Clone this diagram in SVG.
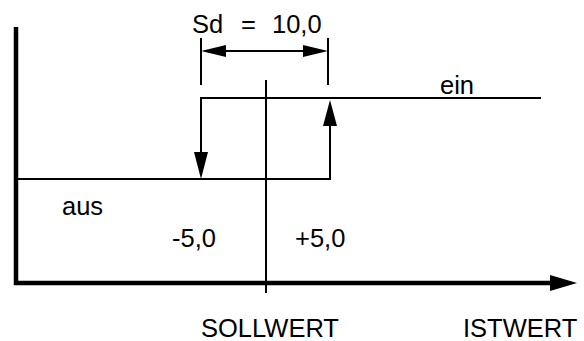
<svg xmlns="http://www.w3.org/2000/svg" width="584" height="341" viewBox="0 0 584 341">
<style>
  .t { font-family: "Liberation Sans", Arial, sans-serif; font-size: 25.5px; fill: #000; }
  .thin { stroke: #000; stroke-width: 2; fill: none; }
  .thick { stroke: #000; stroke-width: 4.5; fill: none; }
  .head { fill: #000; stroke: none; }
</style>
<rect width="584" height="341" fill="#fff"/>
<g id="axes">
  <line class="thick" x1="16" y1="27" x2="16" y2="285"/>
  <line class="thick" x1="14" y1="283" x2="552" y2="283"/>
  <polygon class="head" points="550,275 577,283 550,291"/>
  <line class="thin" x1="266" y1="80" x2="266" y2="293"/>
</g>
<g id="connectors">
  <line class="thin" x1="201" y1="38" x2="201" y2="85"/>
  <line class="thin" x1="328" y1="38" x2="328" y2="85"/>
  <line class="thin" x1="215" y1="51" x2="314" y2="51"/>
  <polygon class="head" points="201,51 226,45 226,57"/>
  <polygon class="head" points="328,51 303,45 303,57"/>
  <polyline class="thin" points="541,98 201,98 201,160"/>
  <polygon class="head" points="201,179 194,152 208,152"/>
  <polyline class="thin" points="16,179 330,179 330,118"/>
  <polygon class="head" points="330,100 323,126 337,126"/>
</g>
<g id="labels">
  <text class="t" y="33"><tspan x="192">Sd</tspan><tspan x="241">=</tspan><tspan x="272">10,0</tspan></text>
  <text class="t" x="440" y="94">ein</text>
  <text class="t" x="62" y="215">aus</text>
  <text class="t" x="172" y="247">-5,0</text>
  <text class="t" x="295" y="247">+5,0</text>
  <text class="t" x="201" y="337">SOLLWERT</text>
  <text class="t" x="463" y="337">ISTWERT</text>
</g>
</svg>
